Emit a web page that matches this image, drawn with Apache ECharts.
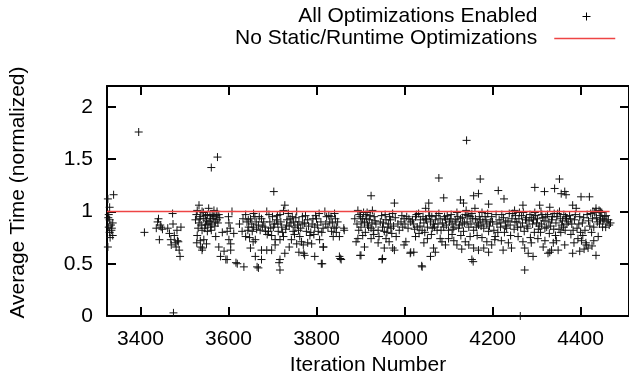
<!DOCTYPE html>
<html><head><meta charset="utf-8">
<script src="https://cdn.jsdelivr.net/npm/echarts@6/dist/echarts.min.js"></script>
<style>html,body{margin:0;padding:0;background:#fff}#c{width:629px;height:383px}</style>
</head><body><div id="c"></div>
<script>
const xTicks = [3400, 3600, 3800, 4000, 4200, 4400];
const yTicks = [0, 0.5, 1, 1.5, 2];
const seriesNames = ['All Optimizations Enabled', 'No Static/Runtime Optimizations'];
const baselineX = [3324, 4466];
const baselineY = [1, 1];

const pointsA = [[3326,1.12],[3339,1.16],[3330,1.04],[3327,0.94],[3330,0.92],[3337,0.89],[3328,0.85],[3334,0.82],[3330,0.80],[3337,0.77],[3326,0.66],[3333,0.87],[3328,0.97],[3335,0.84],[3331,0.75],
[3409,0.80],[3439,0.90],[3445,0.87],[3436,0.84],[3447,0.85],[3443,0.73],[3441,0.93],[3450,0.83],[3473,0.98],[3462,0.84],[3469,0.73],[3477,0.77],[3483,0.82],[3486,0.71],[3490,0.57],[3481,0.66],[3488,0.63],[3466,0.79],[3474,0.88],[3479,0.70],[3484,0.72],[3492,0.85],[3470,0.68]];

const pointsB = [[3533,1.06],[3529,1.01],[3540,1.00],[3555,1.03],[3567,1.01],[3574,1.00],[3525,0.92],[3533,0.89],[3544,0.93],[3552,0.97],[3559,0.93],[3567,0.95],[3574,0.92],[3548,0.87],[3559,0.85],[3540,0.82],[3529,0.77],[3552,0.81],[3544,0.73],[3537,0.66],[3540,0.63],[3571,0.76],[3578,0.66],[3582,0.57],[3597,0.54],[3601,0.89],[3597,0.81],[3601,0.73],[3605,0.69],[3608,1.00],[3605,0.63],[3620,0.50],[3635,0.47],[3631,0.81],[3639,0.97],[3642,0.90],[3650,0.93],[3657,0.98],[3646,0.85],[3654,0.81],[3639,0.76],[3650,0.65],[3661,0.73],[3661,0.57],[3665,0.47],[3657,0.85],[3536,0.95],[3548,0.96],[3563,0.97],[3570,0.90],[3556,0.90],[3531,0.84],[3562,0.88],[3578,0.97],[3586,0.80],[3590,0.62],[3594,0.54],[3617,0.51],[3541,0.65],[3645,0.92],[3660,0.95],[3653,0.88],[3664,0.83],
[3527,0.97],[3535,0.93],[3543,0.99],[3550,0.91],[3558,0.96],[3565,0.93],[3572,0.96],[3580,0.94],[3538,0.87],[3546,0.84],[3553,0.88],[3561,0.82],[3569,0.86],[3576,0.89],[3528,0.70],[3536,0.72],[3550,0.69],[3600,0.95],[3604,0.84],[3612,0.79],[3625,0.88],[3633,0.93],[3644,0.82],[3648,0.75],[3656,0.71],[3663,0.90]];

const pointsC = [[3687,1.00],[3675,0.93],[3668,0.87],[3672,0.82],[3683,0.85],[3694,0.90],[3691,0.81],[3702,0.85],[3698,0.77],[3709,0.92],[3717,0.97],[3728,1.06],[3725,1.01],[3736,0.98],[3740,0.93],[3721,0.85],[3732,0.87],[3713,0.81],[3717,0.73],[3706,0.73],[3725,0.76],[3747,0.81],[3743,0.73],[3755,1.00],[3751,0.85],[3759,0.82],[3762,0.76],[3766,0.71],[3770,0.68],[3755,0.69],[3773,0.89],[3777,0.81],[3773,0.58],[3785,0.77],[3789,0.69],[3796,0.85],[3800,0.93],[3804,0.81],[3807,0.73],[3815,0.66],[3796,0.57],[3811,0.50],[3819,1.00],[3823,0.95],[3830,0.90],[3826,0.85],[3834,0.81],[3838,0.76],[3841,0.98],[3675,0.63],[3687,0.63],[3698,0.63],[3675,0.54],[3717,0.54],[3717,0.44],[3728,0.60],[3668,0.46],[3715,0.51],[3680,0.90],[3700,0.95],[3712,0.88],[3733,0.92],[3745,0.95],[3760,0.90],[3768,0.95],[3780,0.92],[3790,0.88],[3798,0.96],[3810,0.90],[3815,0.84],[3833,0.95],[3771,0.60],[3813,0.50],[3816,0.66],[3688,0.78],[3750,0.78],[3780,0.70],[3794,0.78],
[3670,0.95],[3677,0.86],[3684,0.81],[3692,0.97],[3696,0.84],[3705,0.88],[3711,0.96],[3719,0.90],[3723,0.80],[3730,0.83],[3738,0.86],[3742,0.89],[3748,0.90],[3753,0.94],[3757,0.87],[3764,0.84],[3769,0.88],[3775,0.96],[3782,0.86],[3787,0.80],[3792,0.93],[3802,0.87],[3806,0.98],[3812,0.80],[3821,0.88],[3828,0.96],[3836,0.89],[3840,0.84],[3843,0.93],[3706,0.68],[3738,0.66],[3760,0.61]];

const pointsD = [[3848,0.90],[3845,0.85],[3852,0.76],[3845,0.80],[3863,0.82],[3852,0.57],[3856,0.54],[3854,0.55],[3862,0.84],[3894,1.01],[3897,0.97],[3905,0.93],[3912,0.97],[3920,0.92],[3927,1.01],[3931,0.95],[3909,0.89],[3916,0.87],[3924,0.84],[3901,0.85],[3894,0.74],[3905,0.77],[3924,0.74],[3909,0.66],[3901,0.58],[3890,0.71],[3950,0.85],[3954,0.81],[3962,0.85],[3969,0.84],[3958,0.74],[3965,0.71],[3954,0.65],[3950,0.55],[3973,0.65],[3977,0.63],[3981,0.76],[3992,0.90],[3999,0.93],[3996,0.85],[4003,0.71],[3999,0.68],[4014,0.90],[4014,0.61],[3924,1.15],[3977,1.08],[3973,0.98],[3899,0.58],[3949,0.54],[4013,0.60],[3900,0.95],[3915,0.99],[3935,0.88],[3940,0.82],[3945,0.90],[3958,0.92],[3966,0.95],[3985,0.88],[4005,0.95],[4008,0.84],[3887,0.93],[3940,0.70],[3930,0.78],
[3892,0.88],[3896,0.82],[3903,0.90],[3907,0.99],[3911,0.80],[3914,0.93],[3918,0.85],[3922,0.96],[3926,0.89],[3929,0.82],[3933,0.91],[3948,0.96],[3952,0.89],[3956,0.97],[3960,0.80],[3964,0.88],[3968,0.92],[3971,0.79],[3975,0.86],[3979,0.94],[3988,0.82],[3994,0.96],[4001,0.88],[4010,0.93],[3942,0.76]];

const pointsE = [[4055,1.08],[4048,1.03],[4089,1.13],[4127,1.11],[4134,1.08],[4157,1.15],[4168,1.17],[4191,1.07],
[4025,0.95],[4036,0.92],[4048,0.93],[4059,0.90],[4070,0.92],[4081,0.93],[4093,0.92],[4104,0.93],[4115,0.92],[4127,0.93],[4138,0.97],[4149,0.95],[4161,0.93],[4172,0.92],[4183,0.95],[4195,0.90],
[4029,0.85],[4040,0.82],[4052,0.85],[4063,0.84],[4074,0.82],[4089,0.85],[4100,0.82],[4112,0.85],[4123,0.84],[4134,0.81],[4146,0.85],[4157,0.82],[4168,0.87],[4180,0.84],[4191,0.81],
[4025,0.76],[4052,0.74],[4081,0.74],[4085,0.71],[4100,0.74],[4093,0.68],[4119,0.68],[4138,0.71],[4149,0.76],[4146,0.68],[4157,0.65],[4168,0.63],[4180,0.65],[4187,0.71],[4191,0.61],[4066,0.65],[4070,0.61],[4059,0.57],[4040,0.47],[4153,0.54],[4021,0.61],[4039,0.48],[4156,0.52],
[4020,0.88],[4032,0.98],[4044,0.89],[4057,0.96],[4066,0.88],[4078,0.98],[4086,0.89],[4097,0.96],[4108,0.88],[4119,0.99],[4131,0.88],[4142,0.90],[4153,0.98],[4165,0.89],[4176,0.99],[4187,0.88],[4033,0.79],[4061,0.78],[4108,0.78],[4128,0.77],[4165,0.77],[4176,0.75],[4055,1.00],[4140,1.01],[4160,1.03],
[4018,0.92],[4023,0.83],[4027,0.97],[4035,0.86],[4042,0.95],[4046,0.80],[4050,0.92],[4062,0.95],[4068,0.85],[4072,0.96],[4076,0.88],[4083,0.82],[4091,0.95],[4095,0.87],[4102,0.90],[4106,0.97],[4110,0.83],[4117,0.90],[4121,0.95],[4125,0.87],[4132,0.94],[4136,0.89],[4144,0.96],[4151,0.88],[4155,0.93],[4163,0.85],[4170,0.95],[4174,0.86],[4178,0.90],[4185,0.92],[4189,0.98],[4193,0.86],[4044,0.70],[4112,0.72],[4130,0.64]];

const pointsF = [[4213,1.20],[4226,1.12],[4269,1.06],[4307,1.06],[4330,1.04],[4296,1.23],[4318,1.19],[4341,1.22],[4356,1.17],[4367,1.16],[4352,1.31],
[4198,0.95],[4210,0.88],[4221,0.97],[4232,0.84],[4244,0.93],[4255,0.90],[4266,0.96],[4278,0.86],[4289,0.94],[4300,0.89],[4312,0.97],[4323,0.85],[4334,0.92],[4346,0.95],[4357,0.87],[4368,0.93],
[4203,0.82],[4215,0.92],[4227,0.80],[4238,0.98],[4249,0.83],[4261,0.99],[4272,0.81],[4283,0.91],[4295,0.80],[4306,0.86],[4317,0.91],[4329,0.79],[4340,0.98],[4351,0.83],[4362,0.97],
[4206,0.76],[4218,0.85],[4230,0.90],[4241,0.77],[4252,0.96],[4264,0.85],[4275,0.92],[4286,0.75],[4298,0.96],[4309,0.80],[4321,0.95],[4332,0.86],[4343,0.77],[4354,0.93],[4365,0.82],
[4198,0.68],[4205,0.73],[4224,0.63],[4243,0.65],[4269,0.71],[4273,0.65],[4281,0.60],[4292,0.57],[4315,0.66],[4326,0.60],[4334,0.63],[4349,0.63],[4338,0.70],[4364,0.68],[4273,0.44],[4263,0.00],[4330,0.61],[4296,0.99],[4250,1.01],[4310,1.00],[4352,1.00],
[4200,0.90],[4208,0.97],[4212,0.80],[4219,0.89],[4225,0.94],[4229,0.86],[4235,0.91],[4240,0.87],[4246,0.98],[4251,0.90],[4257,0.85],[4260,0.93],[4268,0.89],[4270,0.99],[4277,0.94],[4280,0.84],[4285,0.97],[4291,0.88],[4293,0.92],[4302,0.93],[4304,0.83],[4311,0.88],[4314,0.94],[4319,0.84],[4325,0.97],[4328,0.90],[4336,0.95],[4339,0.83],[4344,0.89],[4348,0.98],[4355,0.80],[4359,0.91],[4361,0.85],[4366,0.95],[4369,0.88],[4220,0.72],[4236,0.70],[4258,0.76],[4288,0.70],[4303,0.74],[4319,0.72],[4345,0.72]];

const pointsG = [[4364,1.19],[4401,1.14],[4420,1.14],[4382,1.06],[4390,1.03],[4435,1.03],[4442,1.01],[4450,0.93],[4465,0.87],[4457,0.85],[4445,0.92],
[4375,0.96],[4380,0.88],[4386,0.92],[4392,0.84],[4398,0.95],[4404,0.89],[4410,0.82],[4415,0.97],[4421,0.86],[4427,0.93],[4432,0.99],[4438,0.90],[4444,0.96],[4450,0.85],[4455,0.95],[4460,0.90],[4378,0.78],[4394,0.74],[4405,0.77],[4425,0.80],[4440,0.76],[4412,0.70],
[4382,0.60],[4435,0.58],[4417,0.65],[4413,0.68],[4426,0.67],[4398,0.62],[4408,0.64],[4428,1.00],[4435,1.00],[4445,1.00],
[4372,0.90],[4377,0.93],[4383,0.82],[4388,0.97],[4396,0.88],[4400,0.80],[4407,0.94],[4418,0.91],[4423,0.98],[4430,0.85],[4436,0.94],[4443,0.88],[4448,0.99],[4453,0.91],[4458,0.96],[4463,0.92],[4468,0.89],[4385,0.70],[4402,0.72],[4430,0.72]];

const outliers = [[3396,1.76],[3475,0.03],[3561,1.42],[3575,1.52],[3703,1.19],[4078,1.32],[4172,1.31],[4141,1.68]];

const allPoints = [].concat(pointsA, pointsB, pointsC, pointsD, pointsE, pointsF, pointsG, outliers);
const baseline = baselineX.map((x, i) => [x, baselineY[i]]);

const FONT = 'Liberation Sans';
const txt = {fontFamily: FONT, fontSize: 21, color: '#000'};
const PLUS = 'path://M0,4L8,4M4,0L4,8';

function xAx(pos, showLabel) {
  return {
    type: 'value', min: 3324, max: 4510, position: pos,
    axisLine: {show: true, onZero: false, lineStyle: {color: '#000', width: 2}},
    axisTick: {show: true, inside: true, length: 9, customValues: xTicks, lineStyle: {color: '#000', width: 2}},
    axisLabel: {show: showLabel, customValues: xTicks, margin: 13, formatter: v => String(v), ...txt},
    splitLine: {show: false},
    name: showLabel ? 'Iteration Number' : '', nameLocation: 'middle', nameGap: 39, nameTextStyle: txt
  };
}
function yAx(pos, showLabel) {
  return {
    type: 'value', min: 0, max: 2.2, position: pos,
    axisLine: {show: true, onZero: false, lineStyle: {color: '#000', width: 2}},
    axisTick: {show: true, inside: true, length: 9, customValues: yTicks, lineStyle: {color: '#000', width: 2}},
    axisLabel: {show: showLabel, customValues: yTicks, margin: 14, formatter: v => String(v), ...txt},
    splitLine: {show: false},
    name: showLabel ? 'Average Time (normalized)' : '', nameLocation: 'middle', nameGap: 78, nameRotate: 90,
    nameTextStyle: Object.assign({}, txt, {padding: [0, 0, 0, 17]})
  };
}

const chart = echarts.init(document.getElementById('c'), null, {renderer: 'canvas'});
chart.setOption({
  animation: false,
  backgroundColor: '#fff',
  grid: {left: 106, right: 0, top: 86, bottom: 67, containLabel: false},
  legend: [
    {data: [{name: seriesNames[0], icon: 'path://M0,0M48,8M40,4L48,4M44,0L44,8'}], right: 38, top: 6, orient: 'vertical', align: 'right', padding: 0,
     itemWidth: 48, itemHeight: 8, textStyle: txt, itemStyle: {color: 'rgba(0,0,0,0)', borderColor: '#000', borderWidth: 1}},
    {data: [{name: seriesNames[1], icon: 'path://M0,0M73,8M12,4L73,4'}], right: 13, top: 28, orient: 'vertical', align: 'right', padding: 0,
     itemWidth: 73, itemHeight: 8, textStyle: txt, itemStyle: {color: 'rgba(0,0,0,0)', borderColor: '#ee4444', borderWidth: 1.5}}
  ],
  xAxis: [xAx('bottom', true), xAx('top', false)],
  yAxis: [yAx('left', true), yAx('right', false)],
  series: [
    {name: seriesNames[0], type: 'scatter', xAxisIndex: 0, yAxisIndex: 0, data: allPoints,
     symbol: PLUS, symbolSize: 8,
     itemStyle: {color: 'rgba(0,0,0,0)', borderColor: '#111', borderWidth: 1, opacity: 1}},
    {name: seriesNames[1], type: 'line', xAxisIndex: 0, yAxisIndex: 0, data: baseline,
     showSymbol: false, symbol: 'none', lineStyle: {color: '#ee4444', width: 1.5}, itemStyle: {color: '#ee4444'}, z: 3}
  ]
});
</script>
</body></html>
